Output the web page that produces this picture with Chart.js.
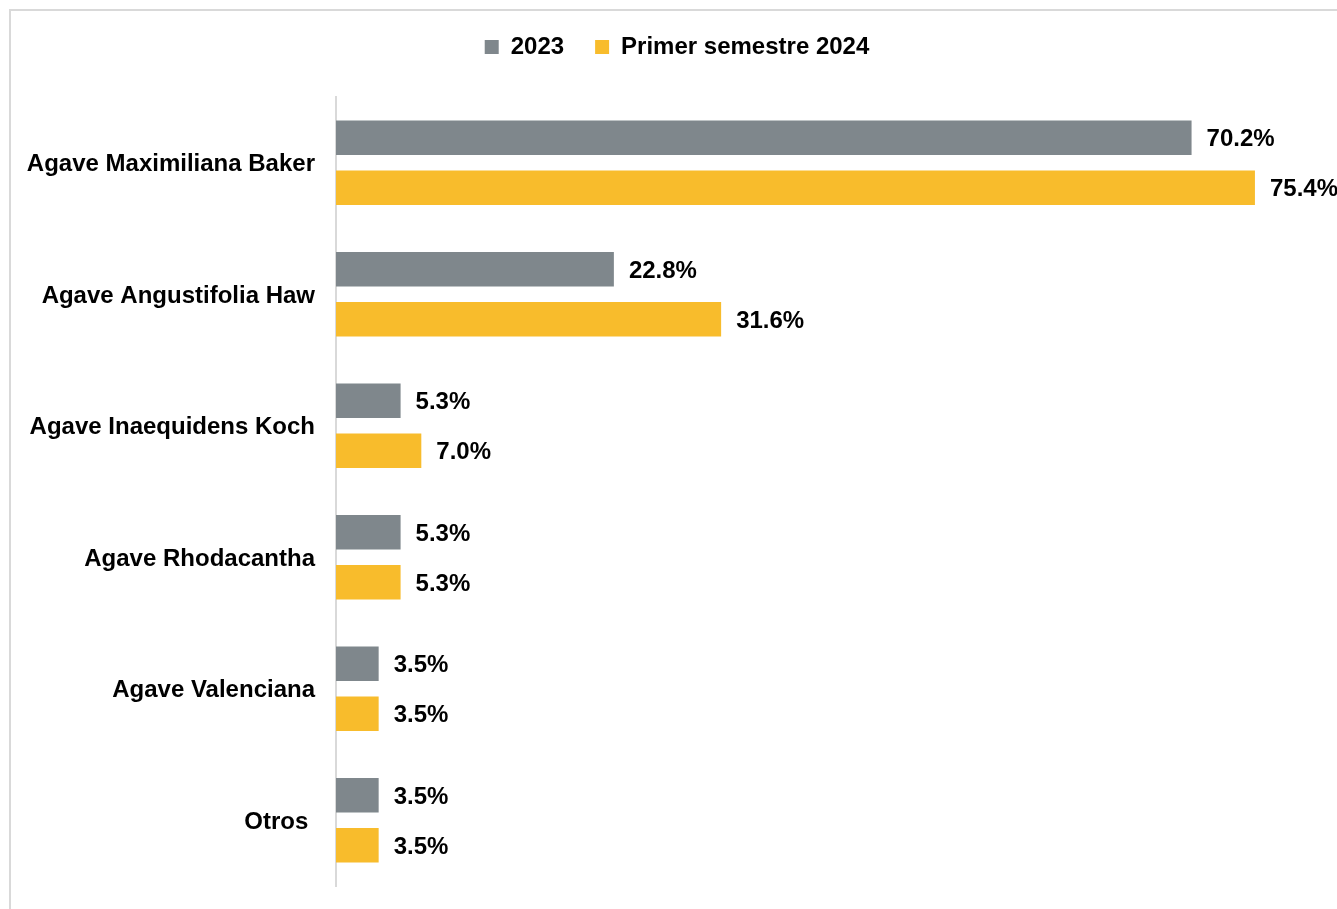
<!DOCTYPE html>
<html>
<head>
<meta charset="utf-8">
<script src="https://cdn.jsdelivr.net/npm/chart.js@4.4.1/dist/chart.umd.min.js"></script>
<style>
  html, body { margin: 0; padding: 0; background: #fff; overflow: hidden; }
  #marco {
    position: absolute; left: 9px; top: 9px; width: 1400px; height: 1000px;
    border-top: 2px solid #d9d9d9; border-left: 2px solid #d9d9d9;
  }
  #lienzo { position: absolute; left: 0; top: 0; }
</style>
</head>
<body>
<div id="marco"></div>
<div id="lienzo"><canvas id="graficoAgave" width="1337" height="909"></canvas></div>
<script>
// Datos del gráfico
const categorias = ['Agave Maximiliana Baker', 'Agave Angustifolia Haw', 'Agave Inaequidens Koch', 'Agave Rhodacantha', 'Agave Valenciana', 'Otros '];
const valores2023 = [70.2, 22.8, 5.3, 5.3, 3.5, 3.5];
const valores2024 = [75.4, 31.6, 7.0, 5.3, 3.5, 3.5];
const series = ['2023', 'Primer semestre 2024'];

const fuente = '"Liberation Sans", Arial, sans-serif';

// etiquetas de valor a la derecha de cada barra
const etiquetasValor = {
    id: 'etiquetasValor',
    afterDatasetsDraw(chart) {
        const ctx = chart.ctx;
        ctx.save();
        ctx.font = 'bold 24px ' + fuente;
        ctx.fillStyle = '#000';
        ctx.textAlign = 'left';
        ctx.textBaseline = 'middle';
        chart.data.datasets.forEach((ds, i) => {
            chart.getDatasetMeta(i).data.forEach((barra, j) => {
                ctx.fillText(ds.data[j].toFixed(1) + '%', barra.x + 15, barra.y + 2);
            });
        });
        ctx.restore();
    }
};

// espacio extra bajo la leyenda y leyenda centrada como en el original
const ajusteLeyenda = {
    id: 'ajusteLeyenda',
    beforeInit(chart) {
        const fitOriginal = chart.legend.fit;
        chart.legend.fit = function () {
            fitOriginal.bind(chart.legend)();
            this.height = 93;
        };
    },
    afterLayout(chart) {
        chart.legend.left = 43;
    }
};

function inicializarGrafico() {
    const ctx = document.getElementById('graficoAgave').getContext('2d');
    new Chart(ctx, {
        type: 'bar',
        data: {
            labels: categorias,
            datasets: [
                { label: series[0], data: valores2023, backgroundColor: '#7f878c' },
                { label: series[1], data: valores2024, backgroundColor: '#f8bc2c' }
            ]
        },
        options: {
            indexAxis: 'y',
            responsive: false,
            animation: false,
            categoryPercentage: 0.7614,
            barPercentage: 0.69,
            layout: { padding: { top: 4, left: 0, right: 26, bottom: 23 } },
            plugins: {
                tooltip: { enabled: false },
                legend: {
                    position: 'top',
                    labels: {
                        boxWidth: 14,
                        boxHeight: 14,
                        padding: 31,
                        color: '#000',
                        font: { family: fuente, size: 24, weight: 'bold' }
                    }
                }
            },
            scales: {
                x: { display: false, min: 0, max: 80 },
                y: {
                    grid: { display: false, drawTicks: false },
                    border: { display: true, color: '#d9d9d9', width: 2 },
                    ticks: {
                        padding: 21,
                        labelOffset: 2,
                        color: '#000',
                        font: { family: fuente, size: 24, weight: 'bold' }
                    },
                    afterFit(escala) {
                        escala.width = 336;
                        escala.paddingTop = 0;
                        escala.paddingBottom = 0;
                    }
                }
            }
        },
        plugins: [etiquetasValor, ajusteLeyenda]
    });
}

document.addEventListener('DOMContentLoaded', inicializarGrafico);
</script>
</body>
</html>
